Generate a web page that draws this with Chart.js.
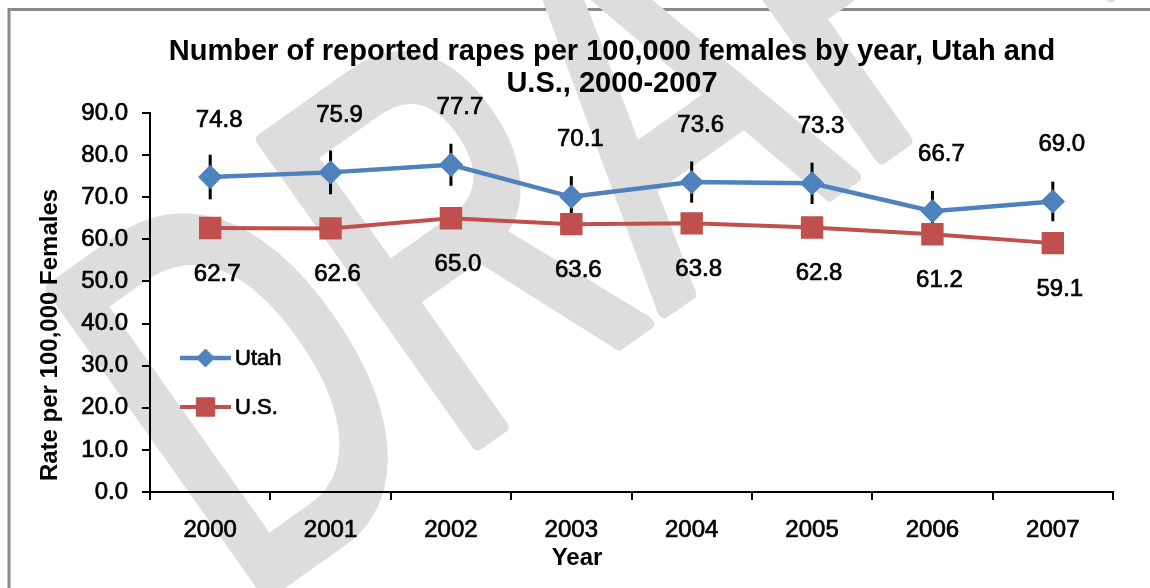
<!DOCTYPE html>
<html>
<head>
<meta charset="utf-8">
<script src="https://cdn.jsdelivr.net/npm/chart.js@4.4.1/dist/chart.umd.min.js"></script>
<style>
  html, body { margin: 0; padding: 0; background: #fff; }
  #wrap { width: 1150px; height: 588px; }
</style>
</head>
<body>
<div id="wrap"><canvas id="rapeChart" width="1150" height="588"></canvas></div>
<script>
// values
const years = ['2000', '2001', '2002', '2003', '2004', '2005', '2006', '2007'];
const utahRate = [74.8, 75.9, 77.7, 70.1, 73.6, 73.3, 66.7, 69.0];
const usRate = [62.7, 62.6, 65.0, 63.6, 63.8, 62.8, 61.2, 59.1];
// half length of the Utah error bars
const utahErr = [5.3, 5.2, 5.0, 4.9, 4.9, 4.9, 4.8, 4.7];

const seriesNames = ['Utah', 'U.S.'];
const chartTitle = ['Number of reported rapes per 100,000 females by year, Utah and', 'U.S., 2000-2007'];
const xTitle = 'Year';
const yTitle = 'Rate per 100,000 Females';
const watermark = 'DRAFT';

const FONT = "'Liberation Sans', Arial, sans-serif";

// frame, watermark and error bars go under the lines
const underlayPlugin = {
  id: 'underlay',
  beforeDraw(chart) {
    const ctx = chart.ctx;
    ctx.save();
    ctx.fillStyle = '#fff';
    ctx.fillRect(0, 0, chart.width, chart.height);

    // gray frame (only top and left are inside the picture)
    ctx.strokeStyle = '#8a8a8a';
    ctx.lineWidth = 3;
    ctx.strokeRect(9, 9.5, chart.width + 20, chart.height + 20);

    // DRAFT watermark, narrow and tilted, with rounded strokes
    ctx.translate(242, 610);
    ctx.rotate(-35.3 * Math.PI / 180);
    ctx.scale(0.66, 1);
    ctx.fillStyle = '#dddddd';
    ctx.strokeStyle = '#dddddd';
    ctx.lineWidth = 14;
    ctx.lineJoin = 'round';
    ctx.font = '540px ' + FONT;
    ctx.textBaseline = 'alphabetic';
    ctx.fillText(watermark, 0, 0);
    ctx.strokeText(watermark, 0, 0);
    ctx.restore();
  },
  beforeDatasetsDraw(chart) {
    const ctx = chart.ctx;
    const yScale = chart.scales.y;
    const meta = chart.getDatasetMeta(0);
    ctx.save();
    ctx.strokeStyle = '#000';
    ctx.lineWidth = 3;
    meta.data.forEach((pt, i) => {
      const top = yScale.getPixelForValue(utahRate[i] + utahErr[i]);
      const bottom = yScale.getPixelForValue(utahRate[i] - utahErr[i]);
      ctx.beginPath();
      ctx.moveTo(pt.x, top);
      ctx.lineTo(pt.x, bottom);
      ctx.stroke();
    });
    ctx.restore();
  },
};

function heavyText(ctx, text, x, y) {
  ctx.fillText(text, x, y);
  ctx.strokeText(text, x, y);
}

// titles, value labels and the legend inside the plot
const overlayPlugin = {
  id: 'overlay',
  afterDraw(chart) {
    const ctx = chart.ctx;
    ctx.save();
    ctx.fillStyle = '#000';
    ctx.strokeStyle = '#000';

    // chart title
    ctx.font = 'bold 29px ' + FONT;
    ctx.textAlign = 'center';
    ctx.textBaseline = 'alphabetic';
    ctx.fillText(chartTitle[0], 612, 60);
    ctx.fillText(chartTitle[1], 612, 92);

    // axis titles
    ctx.font = 'bold 24px ' + FONT;
    ctx.fillText(xTitle, 577, 565);
    ctx.save();
    ctx.translate(57, 335);
    ctx.rotate(-Math.PI / 2);
    ctx.fillText(yTitle, 0, 0);
    ctx.restore();

    // value labels
    ctx.font = '24px ' + FONT;
    ctx.textBaseline = 'middle';
    ctx.lineWidth = 0.7;
    chart.getDatasetMeta(0).data.forEach((pt, i) => {
      heavyText(ctx, utahRate[i].toFixed(1), pt.x + 9, pt.y - 57);
    });
    chart.getDatasetMeta(1).data.forEach((pt, i) => {
      heavyText(ctx, usRate[i].toFixed(1), pt.x + 7, pt.y + 46);
    });

    // legend
    const rows = [358, 407];
    chart.data.datasets.forEach((ds, i) => {
      const y = rows[i];
      ctx.strokeStyle = ds.borderColor;
      ctx.lineWidth = ds.borderWidth;
      ctx.beginPath();
      ctx.moveTo(180, y);
      ctx.lineTo(231, y);
      ctx.stroke();
      ctx.fillStyle = ds.pointBackgroundColor;
      ctx.strokeStyle = ds.pointBorderColor;
      ctx.lineWidth = 1;
      Chart.helpers.drawPoint(ctx, {
        pointStyle: ds.pointStyle,
        radius: ds.pointRadius,
        borderWidth: 1,
        rotation: 0,
      }, 205.5, y);
      ctx.font = '22px ' + FONT;
      ctx.textAlign = 'left';
      ctx.fillStyle = '#000';
      ctx.strokeStyle = '#000';
      ctx.lineWidth = 0.7;
      heavyText(ctx, ds.label, 235, y + 1);
    });
    ctx.restore();
  },
};

const ctx = document.getElementById('rapeChart').getContext('2d');
const chart = new Chart(ctx, {
  type: 'line',
  data: {
    labels: years,
    datasets: [
      {
        label: seriesNames[0],
        data: utahRate,
        borderColor: '#4f81bd',
        backgroundColor: '#4f81bd',
        pointBackgroundColor: '#4f81bd',
        pointBorderColor: '#4f81bd',
        pointStyle: 'rectRot',
        pointRadius: 9,
        borderWidth: 4.5,
        fill: false,
        tension: 0,
      },
      {
        label: seriesNames[1],
        data: usRate,
        borderColor: '#c0504d',
        backgroundColor: '#c0504d',
        pointBackgroundColor: '#c0504d',
        pointBorderColor: '#c0504d',
        pointStyle: 'rect',
        pointRadius: 13,
        borderWidth: 4,
        fill: false,
        tension: 0,
      },
    ],
  },
  options: {
    responsive: false,
    animation: false,
    layout: {
      padding: { top: 113, right: 37, bottom: 0, left: 0 },
    },
    plugins: {
      legend: { display: false },
      title: { display: false },
      tooltip: { enabled: false },
    },
    scales: {
      x: {
        offset: true,
        grid: {
          offset: true,
          drawOnChartArea: false,
          drawTicks: true,
          tickLength: 8,
          color: '#000',
          lineWidth: 2,
        },
        border: { color: '#000', width: 2 },
        ticks: {
          color: '#000',
          font: { family: FONT, size: 24 },
          textStrokeColor: '#000',
          textStrokeWidth: 0.7,
          padding: 16,
          maxRotation: 0,
        },
        afterFit(scale) {
          scale.height = 96;
        },
      },
      y: {
        min: 0,
        max: 90,
        grid: {
          drawOnChartArea: false,
          drawTicks: true,
          tickLength: 8,
          color: '#000',
          lineWidth: 2,
        },
        border: { color: '#000', width: 2 },
        ticks: {
          stepSize: 10,
          color: '#000',
          font: { family: FONT, size: 24 },
          textStrokeColor: '#000',
          textStrokeWidth: 0.7,
          padding: 14,
          callback: (v) => Number(v).toFixed(1),
        },
        afterFit(scale) {
          scale.width = 150;
        },
      },
    },
  },
  plugins: [underlayPlugin, overlayPlugin],
});
</script>
</body>
</html>
